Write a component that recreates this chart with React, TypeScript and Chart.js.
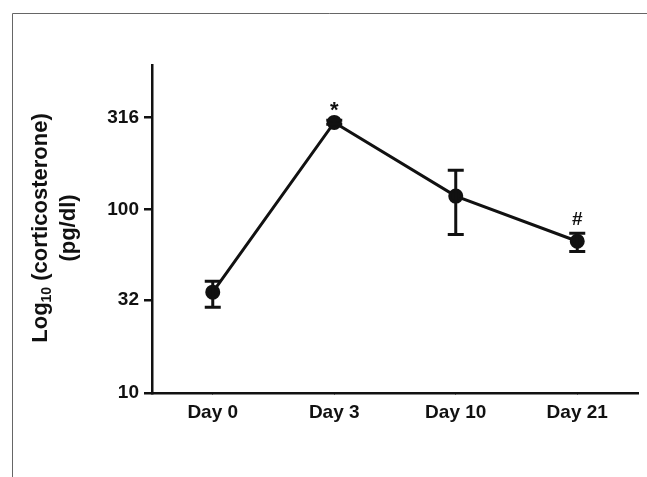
import { useEffect, useRef } from 'react'
import { Chart, registerables } from 'chart.js'

Chart.register(...registerables)

const days = ['Day 0', 'Day 3', 'Day 10', 'Day 21']
const means = [35.4, 297, 118, 67]
const errHigh = [40.6, 305, 163, 74]
const errLow = [29.3, 290, 73, 59]
const marks = ['', '*', '', '#']
const yTicks = [10, 32, 100, 316]

const FONT = '"Liberation Sans", Arial, sans-serif'

export default function App() {
  const canvasRef = useRef<HTMLCanvasElement>(null)

  useEffect(() => {
    document.body.style.margin = '0'
    const ctx = canvasRef.current!.getContext('2d')!

    const extras = {
      id: 'extras',
      afterDatasetsDraw(chart: any) {
        const { ctx: c, scales: { x, y } } = chart
        c.save()
        c.strokeStyle = '#111'
        c.lineWidth = 3
        days.forEach((_, i) => {
          const px = x.getPixelForValue(i)
          const hi = y.getPixelForValue(errHigh[i])
          const lo = y.getPixelForValue(errLow[i])
          c.beginPath()
          c.moveTo(px, hi); c.lineTo(px, lo)
          c.moveTo(px - 8, hi); c.lineTo(px + 8, hi)
          c.moveTo(px - 8, lo); c.lineTo(px + 8, lo)
          c.stroke()
          if (marks[i]) {
            c.fillStyle = '#111'
            c.font = `bold ${marks[i] === '*' ? 22 : 19}px ${FONT}`
            c.textAlign = 'center'
            c.textBaseline = 'bottom'
            c.fillText(marks[i], px, hi - 4 + (marks[i] === '*' ? 6 : 0))
          }
        })
        // frame
        c.strokeStyle = '#666'
        c.lineWidth = 1
        c.beginPath()
        c.moveTo(12.5, 477); c.lineTo(12.5, 13.5); c.lineTo(647, 13.5)
        c.stroke()
        // y title
        c.fillStyle = '#111'
        c.translate(41, 228)
        c.rotate(-Math.PI / 2)
        c.textBaseline = 'middle'
        const big = `bold 22px ${FONT}`
        const small = `bold 14px ${FONT}`
        const parts: [string, string, number][] = [['Log', big, 0], ['10', small, 6], [' (corticosterone)', big, 0]]
        let w = 0
        parts.forEach(([t, f]) => { c.font = f; w += c.measureText(t).width })
        let cx = -w / 2
        c.textAlign = 'left'
        parts.forEach(([t, f, dy]) => { c.font = f; c.fillText(t, cx, dy); cx += c.measureText(t).width })
        c.font = big
        c.textAlign = 'center'
        c.fillText('(pg/dl)', 0, 28)
        c.restore()
      },
    }

    const chart = new Chart(ctx, {
      type: 'line',
      data: {
        labels: days,
        datasets: [{
          data: means,
          borderColor: '#111',
          backgroundColor: '#111',
          borderWidth: 3,
          pointRadius: 6,
          tension: 0,
        }],
      },
      options: {
        animation: false,
        responsive: false,
        layout: { padding: { top: 65, right: 7, left: 0, bottom: 0 } },
        plugins: { legend: { display: false }, tooltip: { enabled: false } },
        scales: {
          x: {
            offset: true,
            afterFit: (s: any) => { s.height = 84 },
            grid: { display: true, drawOnChartArea: false, offset: false, tickLength: 0, color: '#111' },
            border: { color: '#111', width: 2.5 },
            ticks: { color: '#111', font: { family: FONT, size: 19, weight: 'bold' }, padding: 8 },
          },
          y: {
            type: 'logarithmic',
            min: 10,
            max: 610,
            afterFit: (s: any) => { s.width = 152 },
            afterBuildTicks: (s: any) => { s.ticks = yTicks.map(v => ({ value: v })) },
            grid: { display: true, drawOnChartArea: false, tickLength: 8, color: '#111', lineWidth: 2.5 },
            border: { color: '#111', width: 2.5 },
            ticks: { color: '#111', font: { family: FONT, size: 19, weight: 'bold' }, padding: 5, callback: (v: any) => String(v) },
          },
        },
      } as any,
      plugins: [extras],
    })
    return () => chart.destroy()
  }, [])

  return <canvas ref={canvasRef} width={647} height={477} style={{ display: 'block', background: '#fff' }} />
}
